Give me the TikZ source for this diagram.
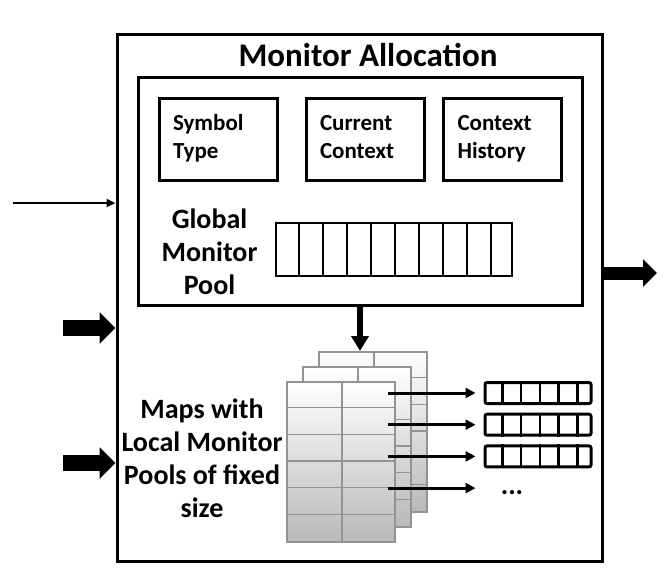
\documentclass[tikz,border=0pt]{standalone}
\usepackage{fontspec}
\setmainfont{Carlito}
\usetikzlibrary{arrows.meta}

\begin{document}
\begin{tikzpicture}[
	x = 1pt, y = -1pt,
	frame/.style = {draw, rectangle, line width = 3pt, inner sep = 0pt},
	field/.style = {frame, minimum height = 82pt, text width = 90pt, inner xsep = 14pt,
		align = left, font = \fontsize{23}{28}\selectfont\bfseries,
		execute at begin node = \strut, execute at end node = \strut},
	words/.style = {align = center, font = \fontsize{28}{33}\selectfont\bfseries},
	slots/.style = {draw, rectangle, line width = 2.5pt, inner sep = 0pt},
	lpool/.style = {slots, line width = 3pt, rounded corners = 2pt, minimum width = 106pt, minimum height = 21pt},
	sheet/.style = {draw = gray!85, line width = 1.5pt, top color = white, bottom color = gray!55,
		minimum width = 108pt, minimum height = 160pt, inner sep = 0pt, anchor = north west},
	grid/.style = {draw = gray!85, line width = 1.5pt},
	lean/.style = {line width = 2.2pt, -{Triangle[length=9pt, width=8pt]}},
	fat/.style = {line width = 16pt, -{Triangle[length=16pt, width=31pt]}},
	fatout/.style = {line width = 13pt, -{Triangle[length=14pt, width=27pt]}},
	drop/.style = {line width = 6pt, -{Triangle[length=15pt, width=17pt]}},
	link/.style = {line width = 3pt, -{Triangle[length=10pt, width=10pt]}}
	]
	
	\useasboundingbox (0,0) rectangle (666,582);
	
	% outer block
	\node[frame, minimum width = 485pt, minimum height = 527pt] (alloc) at (359.5,297.5) {};
	\node[font = \fontsize{33}{38}\selectfont\bfseries] (title) at (368,55) {Monitor Allocation};
	
	% global part
	\node[frame, minimum width = 444pt, minimum height = 228pt] (global) at (360,191) {};
	\node[field] (symbol)  at (218,139)   {Symbol\\Type};
	\node[field] (current) at (365,139)   {Current\\Context};
	\node[field] (history) at (502.5,139) {Context\\History};
	\node[words] (gname) at (209.5,252) {Global\\Monitor\\Pool};
	\node[slots, minimum width = 236pt, minimum height = 53pt] (gpool) at (394,249.5) {};
	\foreach \i in {1,...,9}
		\draw[line width = 2.5pt] ([xshift = \i*24pt]gpool.north west) -- ([xshift = \i*24pt]gpool.south west);
	
	% maps
	\foreach \nm/\sx/\sy in {back/318/351, mid/302/366, front/286/381} {
		\node[sheet] (\nm) at (\sx,\sy) {};
		\draw[grid] ([xshift = 56pt]\nm.north west) -- ([xshift = 56pt]\nm.south west);
		\foreach \r in {1,...,5}
			\draw[grid] ([yshift = -\r*26.67pt]\nm.north west) -- ([yshift = -\r*26.67pt]\nm.north east);
	}
	\draw[drop] (global.south) -- (global.south |- back.north);
	\node[words] (maps) at (202,458.5) {Maps with\\Local Monitor\\Pools of fixed\\size};
	
	% local pools
	\foreach \k in {1,2,3} {
		\node[lpool] (lp\k) at (538,{393+31.7*(\k-1)}) {};
		\foreach \c in {1,...,5}
			\draw[line width = 2.5pt] ([xshift = \c*18.8pt]lp\k.north west) -- ([xshift = \c*18.8pt]lp\k.south west);
	}
	\node[font = \fontsize{28}{33}\selectfont\bfseries] (more) at (512,493) {...};
	\foreach \k in {1,...,4} {
		\coordinate (m\k) at (388,{393+31.7*(\k-1)});
		\draw[link, shorten >= 8pt] (m\k) -- (m\k -| lp1.west);
	}
	
	% inputs and output
	\coordinate (src) at (13,203);
	\coordinate (in1) at (63,328);
	\coordinate (in2) at (63,463);
	\coordinate (out) at (657,273);
	\draw[lean] (src) -- (src -| alloc.west);
	\draw[fat] (in1) -- (in1 -| alloc.west);
	\draw[fat] (in2) -- (in2 -| alloc.west);
	\draw[fatout] (out -| alloc.east) -- (out);
\end{tikzpicture}
\end{document}
